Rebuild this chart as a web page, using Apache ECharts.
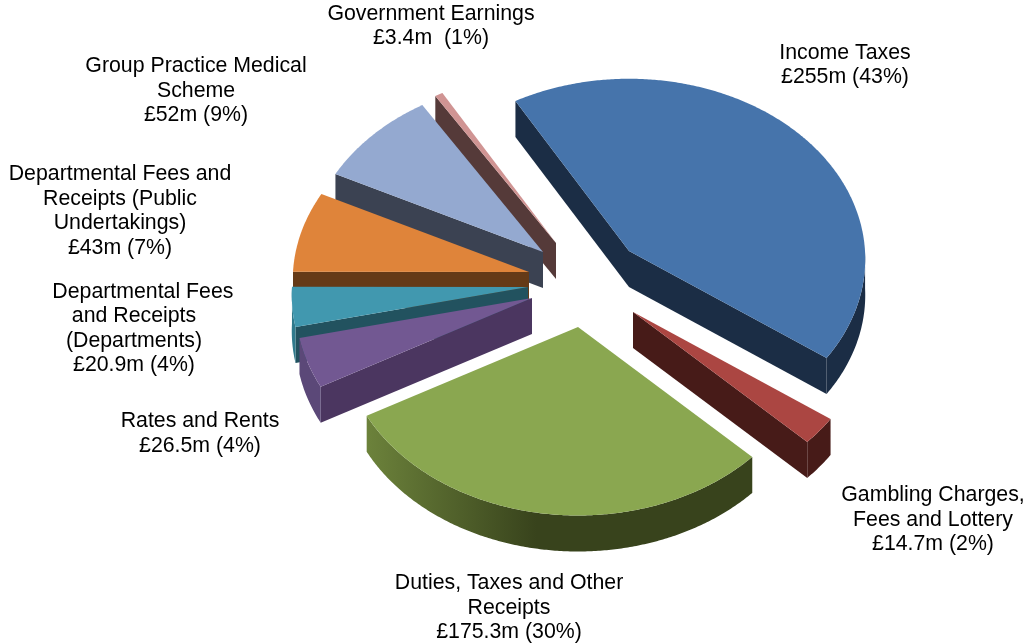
<!DOCTYPE html>
<html>
<head>
<meta charset="utf-8">
<style>html,body{margin:0;padding:0;background:#fff}#c{width:1024px;height:643px}</style>
<script src="https://cdn.jsdelivr.net/npm/echarts@6/dist/echarts.min.js"></script>
</head>
<body>
<div id="c"></div>
<script>
// ---- data ----
const categories = ['Income Taxes','Gambling Charges, Fees and Lottery','Duties, Taxes and Other Receipts','Rates and Rents','Departmental Fees and Receipts (Departments)','Departmental Fees and Receipts (Public Undertakings)','Group Practice Medical Scheme','Government Earnings'];
const values = [255, 14.7, 175.3, 26.5, 20.9, 43, 52, 3.4];
const labelTexts = [
  'Income Taxes\n£255m (43%)',
  'Gambling Charges,\nFees and Lottery\n£14.7m (2%)',
  'Duties, Taxes and Other\nReceipts\n£175.3m (30%)',
  'Rates and Rents\n£26.5m (4%)',
  '   Departmental Fees\nand Receipts\n(Departments)\n£20.9m (4%)',
  'Departmental Fees and\nReceipts (Public\nUndertakings)\n£43m (7%)',
  'Group Practice Medical\nScheme\n£52m (9%)',
  'Government Earnings\n£3.4m  (1%)'
];

// ---- styling and layout ----
const topColors  = ['#4674AB','#AB4642','#8AA750','#725892','#4198AF','#DF843A','#94A9D0','#D09493'];
const sideColors = ['#1B2D45','#471B18','#38431C','#4B3660','#22525F','#653A17','#3B4252','#553A39'];
const arcColors  = ['#1B2D45','#471B18',null,'#5B4878','#2F7A8C','#653A17','#3B4252','#553A39'];
const apexOffsets = [[629,251],[633,312],[578,327],[532,298],[528,287],[529,272],[543,252],[556,243]];
const labelCenters = [[845,65],[933,520],[509,608],[200,433.5],[134,328.5],[120,211],[196,91],[431,26]];
const paintOrder = [7,6,5,4,3,0,1,2];
const startAngle = -30, rx = 236, ry = 180, perspective = 0.045, depth = 36, step = 0.5;

const total = values.reduce((a,b)=>a+b,0);
const toAngle = v => echarts.number.linearMap(v,[0,total],[startAngle,startAngle+360]);
const cumulative = values.map((_,i)=>values.slice(0,i).reduce((a,b)=>a+b,0));
const sinDeg = t => Math.sin(t*Math.PI/180);
const cosDeg = t => Math.cos(t*Math.PI/180);

function rim(c,t){
  const s = 1/(1+perspective*cosDeg(t));
  return [c[0]+rx*s*sinDeg(t), c[1]-ry*s*cosDeg(t)];
}
function renderSlice(params,api){
  const i = api.value(0), v = api.value(1);
  const c = apexOffsets[i];
  const t0 = toAngle(cumulative[i]), t1 = toAngle(cumulative[i]+v);
  const arc = [], frontArc = [];
  const add = t => { const p = rim(c,t); arc.push(p); if(cosDeg(t)<=0) frontArc.push(p); };
  for(let t=t0;t<t1;t+=step) add(t);
  add(t1);
  const first = arc[0], last = arc[arc.length-1];
  const children = [];
  const face = p => ({type:'polygon',shape:{points:[c,p,[p[0],p[1]+depth],[c[0],c[1]+depth]]},style:{fill:sideColors[i]},silent:true});
  if(sinDeg(t0)<0) children.push(face(first));
  if(sinDeg(t1)>0) children.push(face(last));
  if(frontArc.length>1){
    const arcFill = arcColors[i] || new echarts.graphic.LinearGradient(0,0,1,0,[
      {offset:0,color:'#6C823B'},{offset:0.44,color:'#38431C'},{offset:1,color:'#38431C'}]);
    const low = frontArc.map(p=>[p[0],p[1]+depth]).reverse();
    children.push({type:'polygon',shape:{points:frontArc.concat(low)},style:{fill:arcFill},silent:true});
  }
  children.push({type:'polygon',shape:{points:[c].concat(arc)},style:{fill:topColors[i]},silent:true});
  children.push({type:'text',silent:true,style:{
    text:labelTexts[i],x:labelCenters[i][0],y:labelCenters[i][1],
    align:'center',verticalAlign:'middle',
    font:'21.3px "Liberation Sans", Arial, sans-serif',lineHeight:24.5,fill:'#000'}});
  return {type:'group',children};
}

const chart = echarts.init(document.getElementById('c'),null,{renderer:'canvas'});
chart.setOption({
  backgroundColor:'#fff',
  animation:false,
  series:[{
    type:'custom',
    coordinateSystem:'none',
    renderItem:renderSlice,
    dimensions:['index','value'],
    data:paintOrder.map(i=>({name:categories[i],value:[i,values[i]]}))
  }]
});
</script>
</body>
</html>
